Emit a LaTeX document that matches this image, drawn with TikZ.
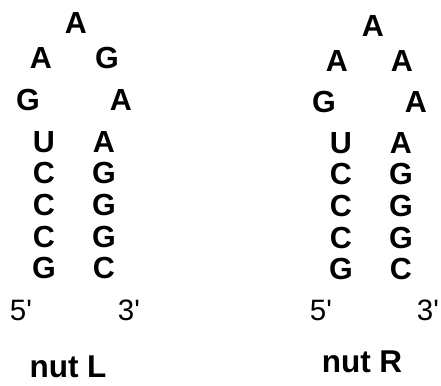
\documentclass[tikz,border=0pt]{standalone}
\usepackage{fontspec}
\setmainfont{Liberation Sans}
% straight primes for the strand ends (no TeX quote ligatures)
\newfontfamily\endfont{Liberation Sans}
\begin{document}
\begin{tikzpicture}[x=1bp,y=-1bp,
  base/.style={inner sep=0pt,outer sep=0pt,anchor=base},
  nt/.style={base,font=\fontsize{30.5bp}{30.5bp}\selectfont\bfseries},
  endmark/.style={base,font=\endfont\fontsize{29.5bp}{29.5bp}\selectfont},
  title/.style={base,font=\fontsize{31.5bp}{31.5bp}\selectfont\bfseries}]
\useasboundingbox (0,0) rectangle (441,385);

% nut L hairpin: loop
\node[nt] (L1) at (76,33) {A};
\node[nt] (L2) at (41,68) {A};
\node[nt] (L3) at (107,68) {G};
\node[nt] (L4) at (28,110) {G};
\node[nt] (L5) at (121,110) {A};
% nut L stem, 5' strand / 3' strand
\node[nt] (L6) at (44,152) {U};
\node[nt] (L7) at (44,183.7) {C};
\node[nt] (L8) at (44,215.3) {C};
\node[nt] (L9) at (44,247) {C};
\node[nt] (L10) at (44,278.7) {G};
\node[nt] (L11) at (104,152) {A};
\node[nt] (L12) at (104,183.7) {G};
\node[nt] (L13) at (104,215.3) {G};
\node[nt] (L14) at (104,247) {G};
\node[nt] (L15) at (104,278.7) {C};
\node[endmark] (L5p) at (21,320) {5'};
\node[endmark] (L3p) at (129,320) {3'};
\node[title] (Lname) at (68,377) {nut L};

% nut R hairpin: loop
\node[nt] (R1) at (373,36) {A};
\node[nt] (R2) at (337,71) {A};
\node[nt] (R3) at (402,71) {A};
\node[nt] (R4) at (324,112) {G};
\node[nt] (R5) at (416,112) {A};
% nut R stem
\node[nt] (R6) at (341,153) {U};
\node[nt] (R7) at (341,184.7) {C};
\node[nt] (R8) at (341,216.3) {C};
\node[nt] (R9) at (341,248) {C};
\node[nt] (R10) at (341,279.7) {G};
\node[nt] (R11) at (401,153) {A};
\node[nt] (R12) at (401,184.7) {G};
\node[nt] (R13) at (401,216.3) {G};
\node[nt] (R14) at (401,248) {G};
\node[nt] (R15) at (401,279.7) {C};
\node[endmark] (R5p) at (321,320) {5'};
\node[endmark] (R3p) at (428,320) {3'};
\node[title] (Rname) at (362,372) {nut R};
\end{tikzpicture}
\end{document}
